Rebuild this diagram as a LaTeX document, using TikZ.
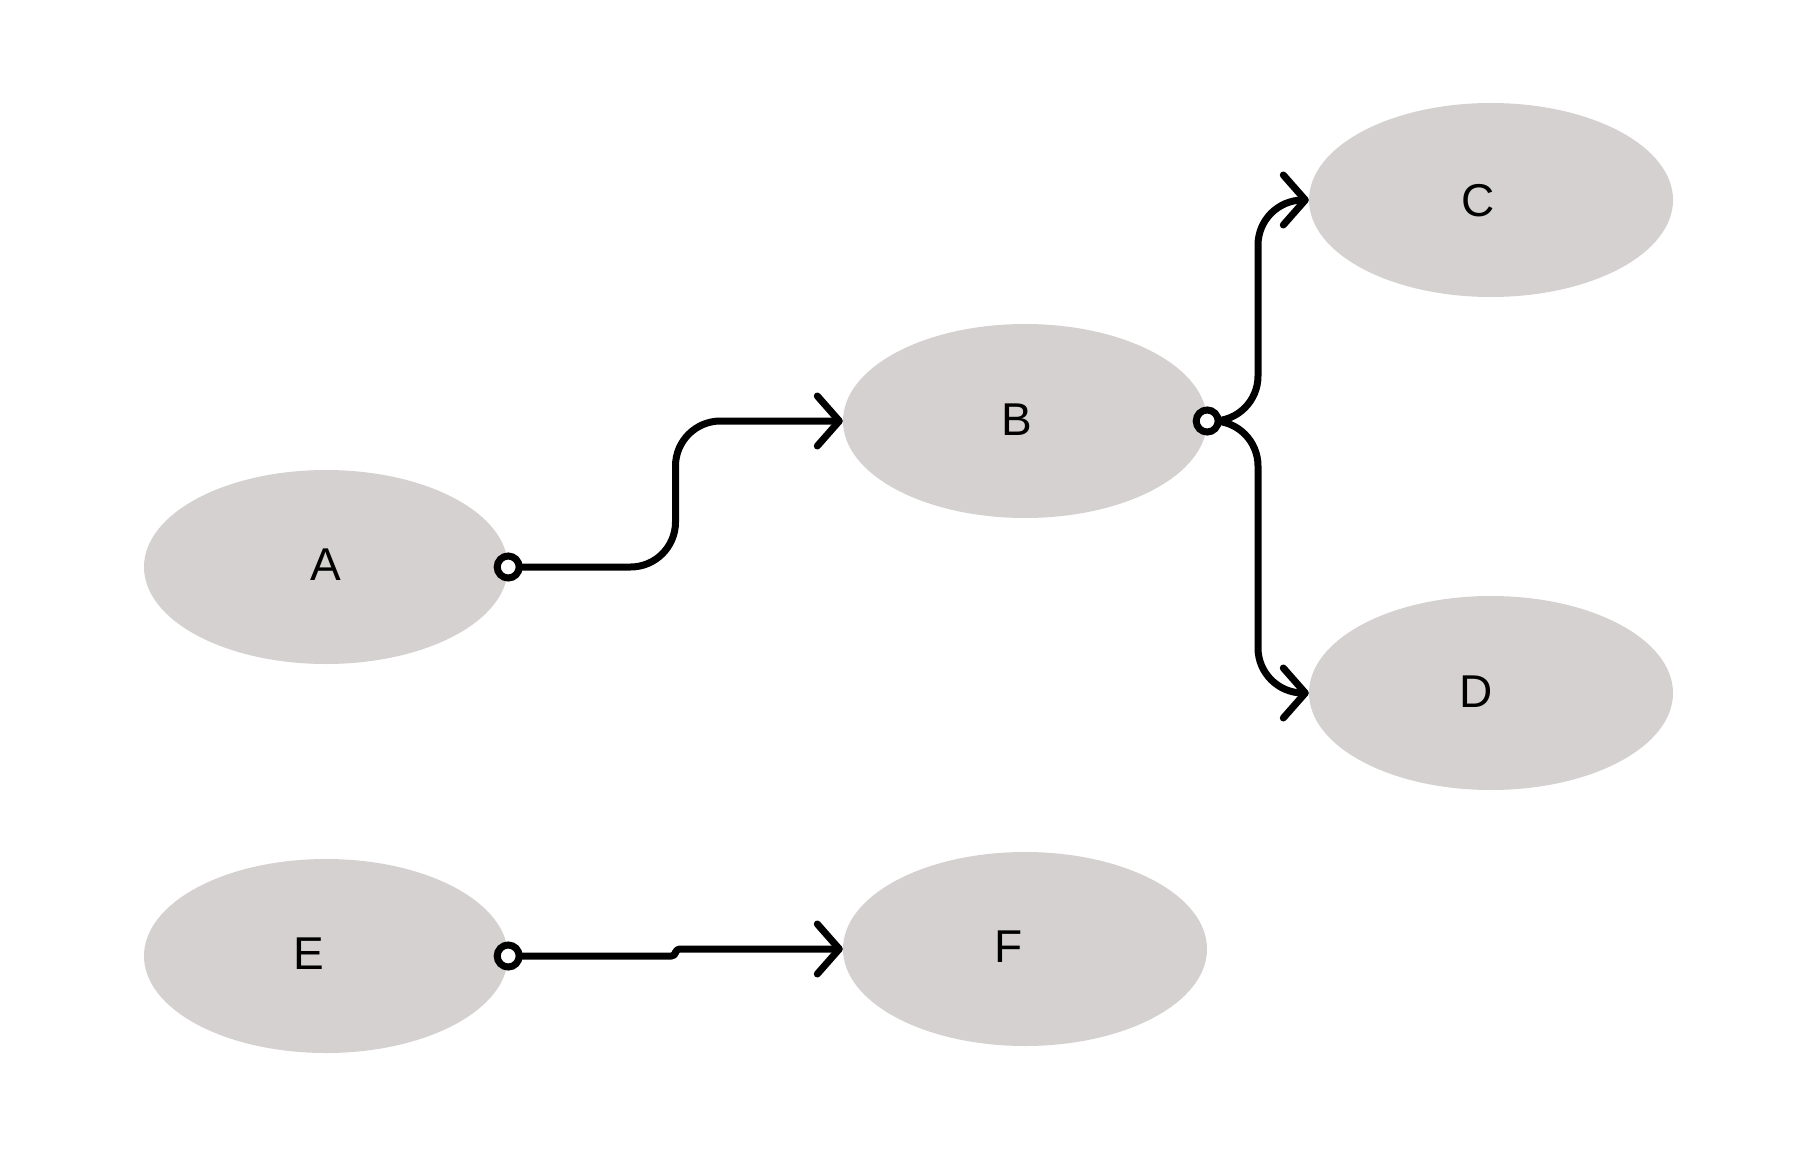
\documentclass[tikz,border=0pt]{standalone}
\usepackage{fontspec}
\setmainfont{Liberation Sans}
\usetikzlibrary{arrows.meta,shapes.geometric,calc}
\definecolor{nodegray}{HTML}{D4D1D0}
\begin{document}
\begin{tikzpicture}[x=1pt,y=-1pt,
  blob/.style={ellipse,fill=nodegray,draw=none,minimum width=364pt,minimum height=194pt,inner sep=0pt},
  lbl/.style={font=\fontsize{46}{50}\selectfont,inner sep=0pt,anchor=center},
  conn/.style={line width=7pt,line cap=round,line join=round,
    -{Straight Barb[length=22pt,width=50pt,line cap=round,line join=round]}},
  port/.style={line width=7pt,fill=white,draw=black}]
\useasboundingbox (0,0) rectangle (1814,1169);
\node[blob] (A) at (326,567) {};
\node[blob] (B) at (1025,421) {};
\node[blob] (C) at (1491,200) {};
\node[blob] (D) at (1491,693) {};
\node[blob] (E) at (326,956) {};
\node[blob] (F) at (1025,949) {};
\node[lbl] (lA) at (326,565) {A};
\node[lbl] (lB) at (1017,420) {B};
\node[lbl] (lC) at (1478,201) {C};
\node[lbl] (lD) at (1476,692) {D};
\node[lbl] (lE) at (309,954) {E};
\node[lbl] (lF) at (1009,947) {F};
\coordinate (mAB) at ($(A.east)!0.5!(B.west)$);
\coordinate (mBC) at ($(B.east)!0.5!(C.west)$);
\coordinate (mBD) at ($(B.east)!0.5!(D.west)$);
\coordinate (mEF) at ($(E.east)!0.5!(F.west)$);
\draw[conn,rounded corners=45pt] (A.east) -| (mAB |- B.west) -- (B.west);
\draw[conn,rounded corners=45pt] (B.east) -| (mBC |- C.west) -- (C.west);
\draw[conn,rounded corners=45pt] (B.east) -| (mBD |- D.west) -- (D.west);
\draw[conn,rounded corners=4pt] (E.east) -| (mEF |- F.west) -- (F.west);
\draw[port] (A.east) circle (11pt);
\draw[port] (B.east) circle (11pt);
\draw[port] (E.east) circle (11pt);
\end{tikzpicture}
\end{document}
